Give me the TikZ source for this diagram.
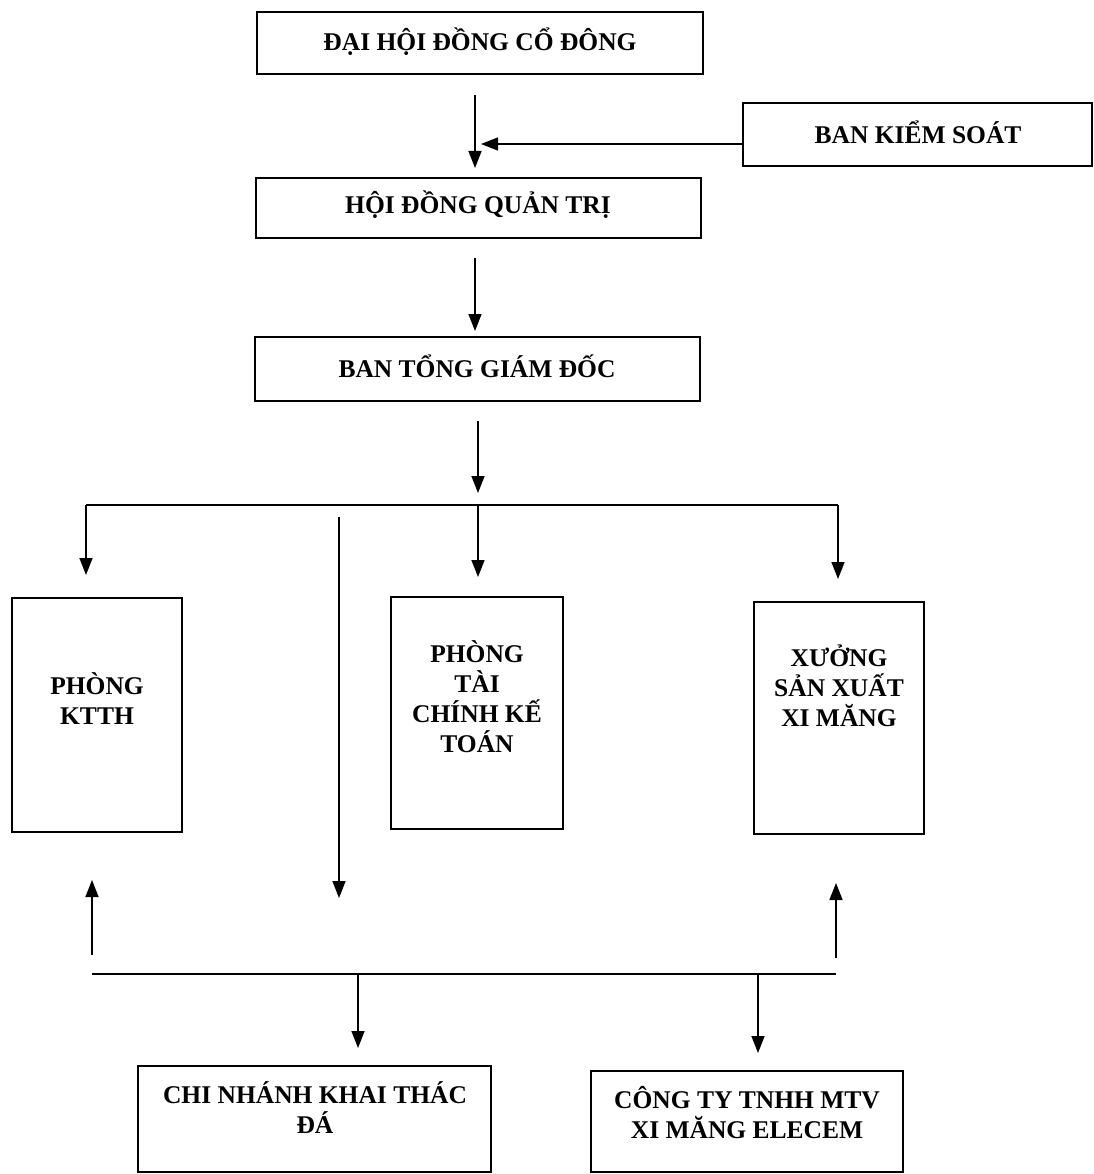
\documentclass[tikz,border=0pt]{standalone}
\usepackage{fontspec}
\setmainfont{Liberation Serif}
\usetikzlibrary{arrows.meta}
\begin{document}
\begin{tikzpicture}[x=1pt,y=-1pt,
  box/.style={draw, line width=1.4pt, inner sep=0pt, rectangle},
  lbl/.style={font=\fontsize{25.5}{30}\selectfont\bfseries, align=center, inner sep=0pt},
  arr/.style={line width=1.6pt, -{Triangle[length=17pt,width=13pt]}},
  ln/.style={line width=1.6pt}]
\useasboundingbox[fill=white] (0,0) rectangle (1093,1174);

% boxes
\node[box, minimum width=446pt, minimum height=62pt] (dhd) at (480,43) {};
\node[box, minimum width=349pt, minimum height=63pt] (bks) at (917.5,134.5) {};
\node[box, minimum width=445pt, minimum height=60pt] (hdqt) at (478.5,208) {};
\node[box, minimum width=445pt, minimum height=64pt] (btgd) at (477.5,369) {};
\node[box, minimum width=170pt, minimum height=234pt] (ktth) at (97,715) {};
\node[box, minimum width=172pt, minimum height=232pt] (tckt) at (477,713) {};
\node[box, minimum width=170pt, minimum height=232pt] (xuong) at (839,718) {};
\node[box, minimum width=353pt, minimum height=106pt] (cnkt) at (314.5,1119) {};
\node[box, minimum width=312pt, minimum height=101pt] (cty) at (747,1121.5) {};

% texts
\node[lbl] (tdhd) at (480,42) {ĐẠI HỘI ĐỒNG CỔ ĐÔNG};
\node[lbl] (tbks) at (918,132) {BAN KIỂM SOÁT};
\node[lbl] (thdqt) at (478,205) {HỘI ĐỒNG QUẢN TRỊ};
\node[lbl] (tbtgd) at (477,366) {BAN TỔNG GIÁM ĐỐC};
\node[lbl] (tktth) at (97,699) {PHÒNG\\KTTH};
\node[lbl] (ttckt) at (477,697) {PHÒNG\\TÀI\\CHÍNH KẾ\\TOÁN};
\node[lbl] (txuong) at (839,686) {XƯỞNG\\SẢN XUẤT\\XI MĂNG};
\node[lbl] (tcnkt) at (315,1108) {CHI NHÁNH KHAI THÁC\\ĐÁ};
\node[lbl] (tcty) at (747,1113) {CÔNG TY TNHH MTV\\XI MĂNG ELECEM};

% connector points
\coordinate (a1s) at (475,95);   \coordinate (a1e) at (475,168);
\coordinate (a2e) at (481,144);
\coordinate (a3s) at (475,258);  \coordinate (a3e) at (475,331);
\coordinate (a4s) at (478,421);  \coordinate (a4e) at (478,493);
\coordinate (hL) at (86,505);    \coordinate (hM) at (478,505);   \coordinate (hR) at (838,505);
\coordinate (d1e) at (86,575);   \coordinate (d2e) at (478,577);  \coordinate (d3e) at (838,579);
\coordinate (lgs) at (339,517);  \coordinate (lge) at (339,898);
\coordinate (uLs) at (92,955);   \coordinate (uLe) at (92,880);
\coordinate (uRs) at (836,958);  \coordinate (uRe) at (836,883);
\coordinate (bL) at (92,974);    \coordinate (bR) at (836,974);
\coordinate (b1s) at (358,974);  \coordinate (b1e) at (358,1048);
\coordinate (b2s) at (758,974);  \coordinate (b2e) at (758,1053);

% connectors
\draw[arr] (a1s) -- (a1e);
\draw[arr] (bks.west |- a2e) -- (a2e);
\draw[arr] (a3s) -- (a3e);
\draw[arr] (a4s) -- (a4e);
\draw[ln] (hL) -- (hR);
\draw[arr] (hL) -- (d1e);
\draw[arr] (hM) -- (d2e);
\draw[arr] (hR) -- (d3e);
\draw[arr] (lgs) -- (lge);
\draw[arr] (uLs) -- (uLe);
\draw[arr] (uRs) -- (uRe);
\draw[ln] (bL) -- (bR);
\draw[arr] (b1s) -- (b1e);
\draw[arr] (b2s) -- (b2e);
\end{tikzpicture}
\end{document}
